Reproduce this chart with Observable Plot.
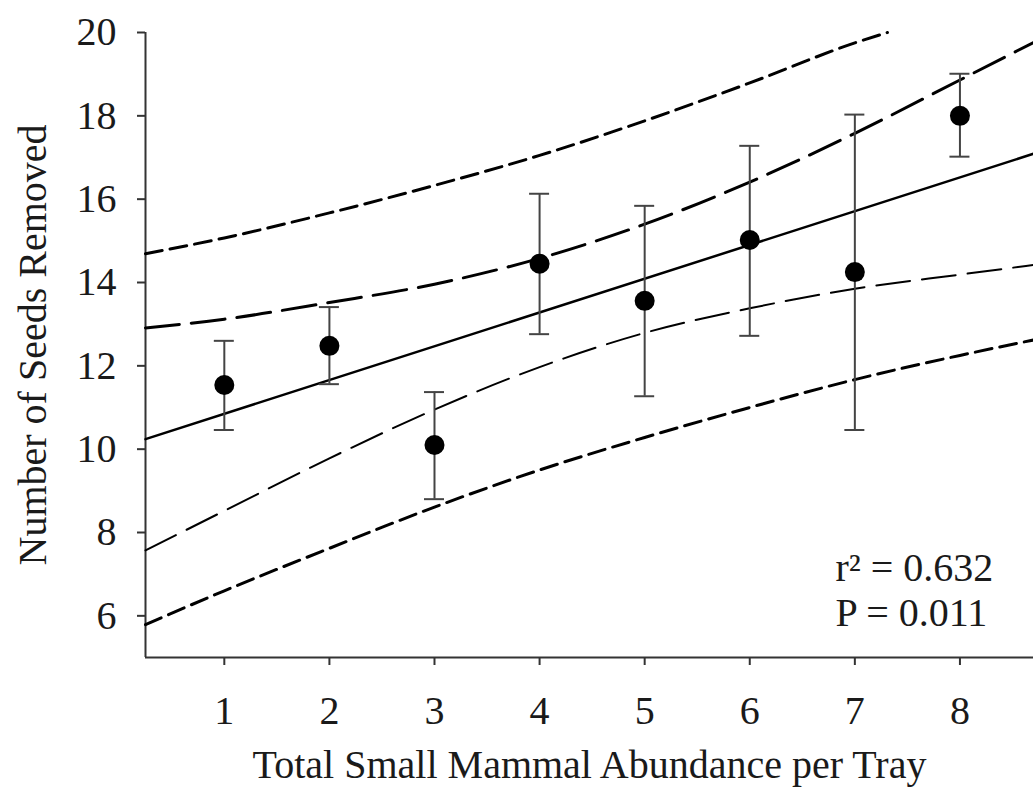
<!DOCTYPE html>
<html><head><meta charset="utf-8">
<script src="https://cdn.jsdelivr.net/npm/d3@7"></script>
<script src="https://cdn.jsdelivr.net/npm/@observablehq/plot@0.6"></script>
<style>html,body{margin:0;padding:0;background:#fff} svg{display:block}</style>
</head><body><div id="chart"></div>
<script>
// Observed means and error bars
const abundance = [1, 2, 3, 4, 5, 6, 7, 8];
const seedsMean = [11.54, 12.48, 10.10, 14.45, 13.56, 15.02, 14.25, 18.00];
const seedsLow  = [10.46, 11.56, 8.80, 12.76, 11.27, 12.72, 10.46, 17.02];
const seedsHigh = [12.60, 13.41, 11.37, 16.13, 15.84, 17.28, 18.03, 19.01];

// Regression line (end points)
const fitX = [0.25, 8.7];
const fitY = [10.24, 17.09];

// Confidence band (long dashes)
const ciX     = [0.25, 1, 2, 3, 4, 5, 6, 7, 8, 8.7];
const ciUpper = [12.91, 13.12, 13.52, 13.96, 14.58, 15.40, 16.41, 17.58, 18.86, 19.76];
const ciLower = [7.57, 8.52, 9.78, 10.95, 11.97, 12.79, 13.38, 13.85, 14.19, 14.42];

// Prediction band (short dashes)
const piUpperX = [0.25, 1, 2, 3, 4, 5, 6, 7, 7.31];
const piUpper  = [14.69, 15.07, 15.67, 16.33, 17.05, 17.88, 18.79, 19.75, 20.0];
const piLowerX = [0.25, 1, 2, 3, 4, 5, 6, 7, 8, 8.7];
const piLower  = [5.79, 6.60, 7.62, 8.61, 9.50, 10.28, 11.00, 11.67, 12.25, 12.62];

const xTicks = [1, 2, 3, 4, 5, 6, 7, 8];
const yTicks = [6, 8, 10, 12, 14, 16, 18, 20];
const xDomain = [0.25, 8.7];
const yDomain = [5, 20];

const xLabel = "Total Small Mammal Abundance per Tray";
const yLabel = "Number of Seeds Removed";
const stats = ["r\u00B2 = 0.632", "P = 0.011"];

const pts = abundance.map((x, i) => ({x, y: seedsMean[i], lo: seedsLow[i], hi: seedsHigh[i]}));
const fit = fitX.map((x, i) => ({x, y: fitY[i]}));
const ciU = ciX.map((x, i) => ({x, y: ciUpper[i]}));
const ciL = ciX.map((x, i) => ({x, y: ciLower[i]}));
const piU = piUpperX.map((x, i) => ({x, y: piUpper[i]}));
const piL = piLowerX.map((x, i) => ({x, y: piLower[i]}));

const axisColor = "#333";
const barColor = "#444";
const textColor = "#1a1a1a";

const chart = Plot.plot({
  width: 1033,
  height: 787,
  marginLeft: 145,
  marginRight: 0,
  marginTop: 32,
  marginBottom: 130,
  x: {domain: xDomain},
  y: {domain: yDomain},
  style: {fontFamily: "'Liberation Serif', 'Times New Roman', serif", fontSize: "40px", color: textColor, background: "#fff"},
  marks: [
    Plot.ruleX([xDomain[0]], {y1: yDomain[0], y2: yDomain[1], stroke: axisColor, strokeWidth: 2}),
    Plot.ruleY([yDomain[0]], {stroke: axisColor, strokeWidth: 2}),
    Plot.axisX({ticks: xTicks, tickSize: 8, tickPadding: 30, stroke: axisColor, strokeWidth: 2,
      label: xLabel, labelAnchor: "center", labelOffset: 120, labelArrow: "none"}),
    Plot.axisY({ticks: yTicks, tickSize: 8, tickPadding: 21, stroke: axisColor, strokeWidth: 2,
      label: yLabel, labelAnchor: "center", labelOffset: 128, labelArrow: "none"}),
    Plot.line(piU, {x: "x", y: "y", curve: "monotone-x", stroke: "#000", strokeWidth: 3, strokeDasharray: "17,8"}),
    Plot.line(piL, {x: "x", y: "y", curve: "monotone-x", stroke: "#000", strokeWidth: 3, strokeDasharray: "17,8"}),
    Plot.line(ciU, {x: "x", y: "y", curve: "monotone-x", stroke: "#000", strokeWidth: 3, strokeDasharray: "34,12"}),
    Plot.line(ciL, {x: "x", y: "y", curve: "monotone-x", stroke: "#000", strokeWidth: 2, strokeDasharray: "34,12"}),
    Plot.line(fit, {x: "x", y: "y", stroke: "#000", strokeWidth: 2.5}),
    Plot.ruleX(pts, {x: "x", y1: "lo", y2: "hi", stroke: barColor, strokeWidth: 2}),
    Plot.ruleY(pts, {y: "hi", x1: "x", x2: "x", insetLeft: -10, insetRight: -10, stroke: barColor, strokeWidth: 2}),
    Plot.ruleY(pts, {y: "lo", x1: "x", x2: "x", insetLeft: -10, insetRight: -10, stroke: barColor, strokeWidth: 2}),
    Plot.dot(pts, {x: "x", y: "y", r: 10, fill: "#000"}),
    Plot.text([stats[0]], {frameAnchor: "bottom-right", textAnchor: "start", lineAnchor: "bottom", dx: -198, dy: -77, fill: textColor}),
    Plot.text([stats[1]], {frameAnchor: "bottom-right", textAnchor: "start", lineAnchor: "bottom", dx: -198, dy: -32, fill: textColor})
  ]
});
document.getElementById("chart").appendChild(chart);
</script>
</body></html>
